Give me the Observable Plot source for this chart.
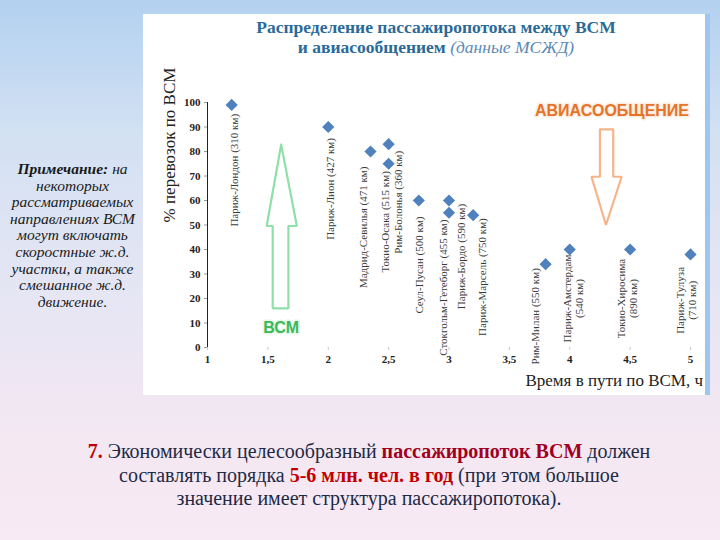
<!DOCTYPE html>
<html><head><meta charset="utf-8">
<script src="https://cdn.jsdelivr.net/npm/d3@7"></script>
<script src="https://cdn.jsdelivr.net/npm/@observablehq/plot@0.6"></script>
<style>
html,body{margin:0;padding:0;}
body{width:720px;height:540px;position:relative;overflow:hidden;
  background:linear-gradient(to bottom,#b3d1f0 0%,#d3e1f3 25%,#e6e6f4 55%,#f3e7f2 80%,#f8eaf4 100%);
  font-family:"Liberation Serif","Times New Roman",serif;}
#panel{position:absolute;left:143px;top:14px;width:562px;height:381px;background:#fff;border-right:5px solid #9fc6ec;}
#title{position:absolute;left:12px;top:3px;width:562px;text-align:center;font-family:"Liberation Serif",serif;font-size:17.5px;line-height:20px;font-weight:bold;color:#2a6a98;}
#title i{font-weight:normal;color:#5b8ab5;}
#ylabel{position:absolute;left:27px;top:131px;transform:translate(-50%,-50%) rotate(-90deg);white-space:nowrap;font-size:17px;color:#222;}
#chart{position:absolute;left:0;top:46px;}
#xlabel{position:absolute;right:2px;top:357px;font-size:17px;line-height:20px;color:#222;white-space:nowrap;}
#note{position:absolute;left:0;top:161px;width:145px;text-align:center;font-family:"Liberation Serif",serif;font-style:italic;font-size:15.5px;line-height:16.6px;color:#1a1a1a;}
#bottom{position:absolute;left:46px;top:440px;width:646px;text-align:center;font-family:"Liberation Serif",serif;font-size:20px;line-height:23.5px;color:#1d2a44;}
#bottom .r{color:#c00000;font-weight:bold;}
#bottom .dr{color:#a0001e;font-weight:bold;}
#chart svg g[aria-label^="y-axis"] text, #chart svg g[aria-label^="x-axis"] text{font-weight:bold;fill:#222;}
#chart svg g[aria-label^="y-axis"] line, #chart svg g[aria-label^="y-axis"] path{stroke:#9a9a9a;}
#chart svg g[aria-label^="x-axis"] line, #chart svg g[aria-label^="x-axis"] path{stroke:#c8c8c8;}
</style></head>
<body>
<div id="panel">
  <div id="title">Распределение пассажиропотока между ВСМ<br>и авиасообщением <i>(данные МСЖД)</i></div>
  <div id="ylabel">% перевозок по ВСМ</div>
  <div id="chart"></div>
  <div id="xlabel">Время в пути по ВСМ, ч</div>
</div>
<div id="note"><b>Примечание:</b> на<br>некоторых<br>рассматриваемых<br>направлениях ВСМ<br>могут включать<br>скоростные ж.д.<br>участки, а также<br>смешанное ж.д.<br>движение.</div>
<div id="bottom"><span class="r">7.</span> Экономически целесообразный <span class="dr">пассажиропоток ВСМ</span> должен<br>составлять порядка <span class="r">5-6 млн. чел. в год</span> (при этом большое<br>значение имеет структура пассажиропотока).</div>
<script>
// ---- data ----
const routes = [
  "Париж-Лондон (310 км)",
  "Париж-Лион (427 км)",
  "Мадрид-Севилья (471 км)",
  "Токио-Осака (515 км)",
  "Рим-Болонья (360 км)",
  "Сеул-Пусан (500 км)",
  "Стокгольм-Гетеборг (455 км)",
  "Париж-Бордо (590 км)",
  "Париж-Марсель (750 км)",
  "Рим-Милан (550 км)",
  "Париж-Амстердам\n(540 км)",
  "Токио-Хиросима\n(890 км)",
  "Париж-Тулуза\n(710 км)"
];
const travelHours = [1.2, 2.0, 2.35, 2.5, 2.5, 2.75, 3.0, 3.0, 3.2, 3.8, 4.0, 4.5, 5.0];
const vsmShare    = [99, 90, 80, 83, 75, 60, 60, 55, 54, 34, 40, 40, 38];
const xTicks = [1, 1.5, 2, 2.5, 3, 3.5, 4, 4.5, 5];
const yTicks = [0, 10, 20, 30, 40, 50, 60, 70, 80, 90, 100];
// annotation arrows (outline vertices in data units)
const vsmArrowX = [1.61, 1.74, 1.67, 1.67, 1.54, 1.54, 1.49, 1.61];
const vsmArrowY = [82.8, 49.6, 49.6, 16, 16, 49.6, 49.6, 82.8];
const airArrowX = [4.25, 4.36, 4.36, 4.43, 4.30, 4.18, 4.25, 4.25];
const airArrowY = [89, 89, 69.7, 69.7, 50, 69.7, 69.7, 89];
const annotText = ["ВСМ", "АВИАСООБЩЕНИЕ"];
const annotX = [1.61, 4.35];
const annotY = [8.2, 96.7];

// ---- build tables ----
const points = routes.map((r, i) => ({label: r, x: travelHours[i], y: vsmShare[i]}));
const vsmArrow = vsmArrowX.map((x, i) => ({x, y: vsmArrowY[i]}));
const airArrow = airArrowX.map((x, i) => ({x, y: airArrowY[i]}));
const annots = annotText.map((t, i) => ({t, x: annotX[i], y: annotY[i]}));

// label placement nudges (px): [dx, dy, anchor]
const nudges = [
  [2, 9, "end"], [2, 11, "end"], [-7, 15, "end"], [-4, 27, "end"], [9, -13, "end"],
  [0, 16, "end"], [-6, 19, "end"], [12, -9, "end"], [9, 3, "end"], [-10, 4, "end"],
  [3, 49, "middle"], [-3, 49, "middle"], [-4, 46, "middle"]
];

const labelMarks = points.map((p, i) => Plot.text([p], {
  x: "x", y: "y", text: "label", rotate: -90,
  textAnchor: nudges[i][2], dx: nudges[i][0], dy: nudges[i][1],
  fontSize: 11, fill: "#3a3a3a", lineHeight: 1.1,
  fontFamily: "Liberation Serif"
}));

const chart = Plot.plot({
  width: 562, height: 335,
  marginLeft: 64, marginRight: 15, marginTop: 42, marginBottom: 48,
  style: {fontFamily: "Liberation Serif", fontSize: "11px", background: "transparent", color: "#222"},
  x: {domain: [1, 5], ticks: xTicks, tickSize: 3, tickPadding: 5, label: null,
      tickFormat: d => String(d).replace(".", ",")},
  y: {domain: [0, 100], ticks: yTicks, tickSize: 3, tickPadding: 4, label: null, line: true},
  marks: [
    Plot.line(vsmArrow, {x: "x", y: "y", stroke: "#8fe0a8", strokeWidth: 2.2, strokeLinejoin: "miter"}),
    Plot.line(airArrow, {x: "x", y: "y", stroke: "#f5b48a", strokeWidth: 2.2, strokeLinejoin: "miter"}),
    ...labelMarks,
    Plot.dot(points, {x: "x", y: "y", symbol: "diamond2", r: 5.5, fill: "#4f81bd", stroke: "none"}),
    Plot.text([annots[0]], {x: "x", y: "y", text: "t", fill: "#3cb95a", fontSize: 16, fontWeight: "bold",
      fontFamily: "Liberation Sans", stroke: "#e8f8ec", strokeWidth: 3, paintOrder: "stroke"}),
    Plot.text([annots[1]], {x: "x", y: "y", text: "t", fill: "#e5732a", fontSize: 16, fontWeight: "bold",
      fontFamily: "Liberation Sans", stroke: "#fdeee2", strokeWidth: 3, paintOrder: "stroke"})
  ]
});
document.getElementById("chart").appendChild(chart);
</script>
</body></html>
